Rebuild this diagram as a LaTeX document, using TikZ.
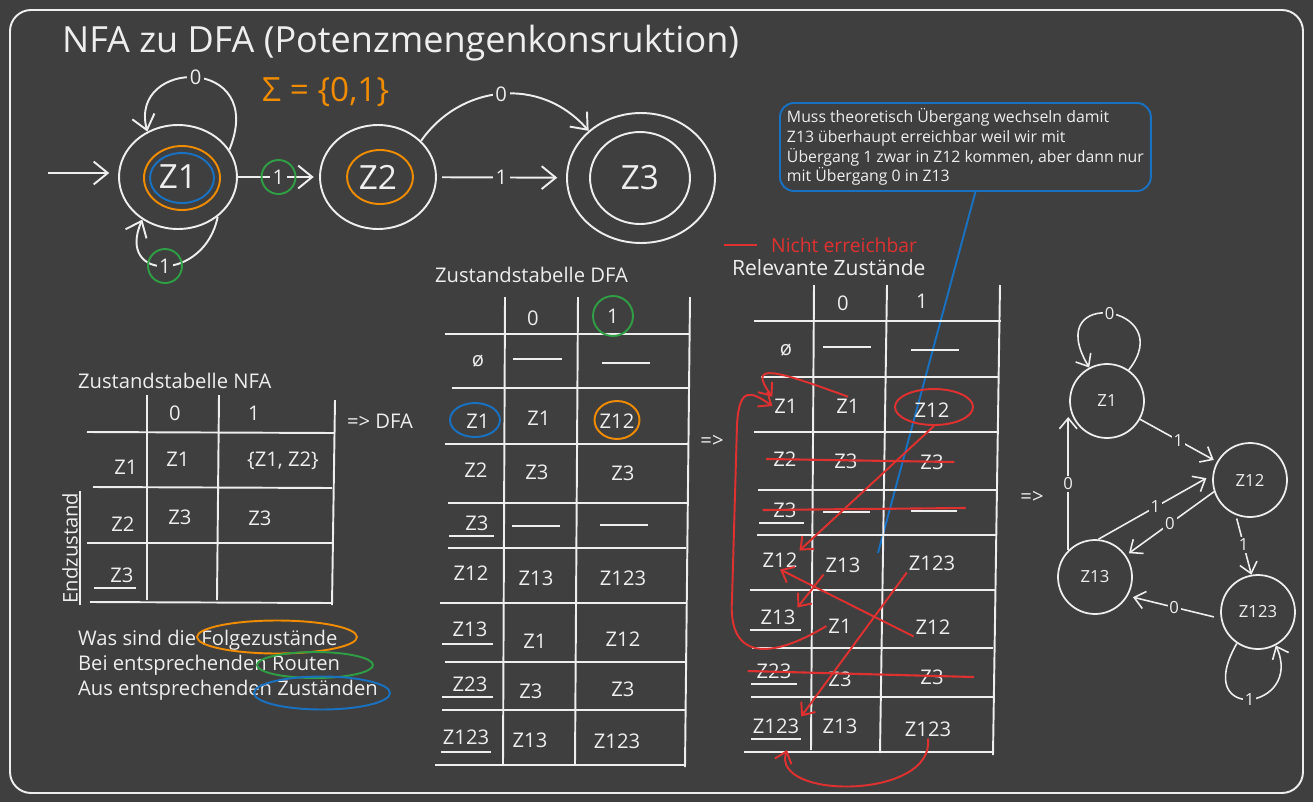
\documentclass[tikz,border=0pt]{standalone}
\usepackage{fontspec}
\setmainfont{Open Sans}
\usepackage{xcolor}
\usetikzlibrary{positioning,shapes.geometric,arrows.meta}

\definecolor{board}{HTML}{3F3F3F}
\definecolor{chalk}{HTML}{EEEEEE}
\definecolor{exorange}{HTML}{F08C00}
\definecolor{exblue}{HTML}{1971C2}
\definecolor{exgreen}{HTML}{2F9E44}
\definecolor{exred}{HTML}{E03131}

\begin{document}
\begin{tikzpicture}[
  x=0.02cm, y=-0.02cm,
  txt/.style={text=chalk, font=\fontsize{11.5}{14}\selectfont, inner sep=1pt},
  nstate/.style={draw=chalk, ellipse, line width=1.1pt, inner sep=0pt, text=chalk, font=\fontsize{19}{22}\selectfont},
  ring/.style={draw, ellipse, line width=1.1pt, inner sep=0pt},
  dstate/.style={draw=chalk, circle, line width=1pt, minimum size=1.48cm, inner sep=0pt, text=chalk, font=\fontsize{9.5}{12}\selectfont},
  arrow/.style={draw=chalk, line width=1.1pt, -{Straight Barb[length=8pt,width=13pt]}},
  small arrow/.style={draw=chalk, line width=0.9pt, -{Straight Barb[length=6pt,width=10pt]}},
  red arrow/.style={draw=exred, line width=1.1pt, -{Straight Barb[length=6pt,width=10pt]}},
  lbl/.style={fill=board, inner sep=1.5pt, text=chalk, font=\fontsize{11.5}{14}\selectfont},
  dlabel/.style={fill=board, inner sep=1pt, text=chalk, font=\fontsize{9.5}{12}\selectfont},
  tabline/.style={draw=chalk, line width=1.1pt},
  strike/.style={draw=exred, line width=1.2pt}
]
\fill[board] (0,0) rectangle (1313,802);
\draw[chalk, line width=1.1pt, rounded corners=12pt] (10,10) rectangle (1303,793);

% Titel und Alphabet
\node[txt, anchor=west, font=\fontsize{20.5}{24}\selectfont] (title) at (60,43) {NFA zu DFA (Potenzmengenkonsruktion)};
\node[anchor=west, text=exorange, font=\fontsize{19}{22}\selectfont] (sigma) at (256,92) {Σ = \{0,1\}};

% NFA oben
\node[nstate, minimum width=2.36cm, minimum height=2.08cm] (z1) at (178,177) {Z1};
\node[ring, exorange, minimum width=1.52cm, minimum height=1.28cm] (z1o) at (182,178) {};
\node[ring, exblue, minimum width=1.28cm, minimum height=1.0cm] (z1b) at (182,178) {};
\node[nstate, minimum width=2.32cm, minimum height=2.08cm] (z2) at (378,177) {Z2};
\node[ring, exorange, minimum width=1.32cm, minimum height=1.08cm] (z2o) at (380,177) {};
\node[nstate, minimum width=2.96cm, minimum height=2.6cm] (z3) at (641,178) {};
\node[nstate, minimum width=2.0cm, minimum height=1.84cm] (z3i) at (640,178) {Z3};
\coordinate (nstart) at (48,173);
\draw[arrow, shorten >=5pt] (nstart) -- (nstart -| z1.west);
\draw[arrow, shorten >=3pt] (z1) -- node[lbl] (t11) {1} (z2);
\node[ring, exgreen, circle, minimum size=0.68cm] (g1) at (t11) {};
\draw[arrow] (z1.28) .. controls (268,55) and (128,58) .. node[lbl] (t00) {0} (z1.124);
\draw[arrow] (z1.-45) .. controls (205,282) and (115,282) .. node[lbl] (t01) {1} (z1.-130);
\node[ring, exgreen, circle, minimum size=0.68cm] (g2) at (t01) {};
\draw[arrow] (z2.40) .. controls (460,85) and (540,75) .. node[lbl] (t20) {0} (z3.138);
\draw[arrow, shorten <=3pt, shorten >=5pt] (z2) -- node[lbl] (t21) {1} (z3);

% Kommentar
\node[draw=exblue, line width=1.1pt, rounded corners=8pt, anchor=north west, align=left, inner xsep=4pt, inner ysep=3pt, text=chalk, font=\fontsize{9}{11.3}\selectfont] (note) at (779,102) {Muss theoretisch Übergang wechseln damit\\Z13 überhaupt erreichbar weil wir mit\\Übergang 1 zwar in Z12 kommen, aber dann nur\\mit Übergang 0 in Z13};
\coordinate (notetip) at (878,553);
\draw[exblue, line width=1.1pt] ([xshift=0.2cm]note.south) -- (notetip);

% Zustandstabelle NFA
\node[txt, anchor=west] (nfahead) at (76,381) {Zustandstabelle NFA};
\draw[tabline] (147,395) -- (147,600);
\draw[tabline] (219,395) -- (217,600);
\draw[tabline] (335,400) -- (332,605);
\draw[tabline] (87,432) -- (335,433);
\draw[tabline] (93,487) -- (332,488);
\draw[tabline] (87,543) -- (332,543);
\draw[tabline] (90,602) -- (332,603);
\node[txt] (nh0) at (175,413) {0};
\node[txt] (nh1) at (254,413) {1};
\node[txt] (nz1) at (126,467) {Z1};
\node[txt] (nz1a) at (178,459) {Z1};
\node[txt] (nz1b) at (283,461) {\{Z1, Z2\}};
\node[txt] (nz2) at (123,524) {Z2};
\node[txt] (nz2a) at (180,517) {Z3};
\node[txt] (nz2b) at (260,518) {Z3};
\node[txt] (nz3) at (122,575) {Z3};
\draw[tabline] ([xshift=-8pt,yshift=-2pt]nz3.south west) -- ([yshift=-2pt]nz3.south east);
\node[txt, rotate=90] (endz) at (70,548) {Endzustand};
\draw[tabline] (endz.south west) -- (endz.south east);
\node[txt, anchor=west] (todfa) at (345,421) {=> DFA};

% Fragen
\node[txt, anchor=west] (q1) at (76,640) {Was sind die Folgezustände};
\node[txt, anchor=west] (q2) at (76,665) {Bei entsprechenden Routen};
\node[txt, anchor=west] (q3) at (76,690) {Aus entsprechenden Zuständen};
\node[ring, exorange, minimum width=3.2cm, minimum height=0.66cm] (qm1) at (277,637) {};
\node[ring, exgreen, minimum width=2.32cm, minimum height=0.52cm] (qm2) at (315,665) {};
\node[ring, exblue, minimum width=2.72cm, minimum height=0.66cm] (qm3) at (322,693) {};

% Zustandstabelle DFA
\node[txt, anchor=west] (dfahead) at (433,275) {Zustandstabelle DFA};
\draw[tabline] (505,297) -- (503,765);
\draw[tabline] (578,297) -- (575,765);
\draw[tabline] (690,297) -- (685,767);
\draw[tabline] (445,334) -- (690,334);
\draw[tabline] (452,388) -- (688,388);
\draw[tabline] (445,444) -- (688,444);
\draw[tabline] (448,503) -- (688,503);
\draw[tabline] (448,548) -- (686,548);
\draw[tabline] (440,603) -- (686,603);
\draw[tabline] (445,662) -- (686,662);
\draw[tabline] (442,710) -- (685,710);
\draw[tabline] (435,765) -- (685,765);
\node[txt] (dh0) at (533,318) {0};
\node[txt] (dh1) at (613,316) {1};
\node[ring, exgreen, circle, minimum size=0.8cm] (dg1) at (dh1) {};
\node[txt] (de) at (478,361) {ø};
\draw[tabline] (513,359) -- (562,359);
\draw[tabline] (602,363) -- (650,363);
\node[txt] (dz1) at (478,421) {Z1};
\node[txt] (dz1a) at (539,418) {Z1};
\node[txt] (dz1b) at (617,421) {Z12};
\node[ring, exblue, minimum width=1.0cm, minimum height=0.68cm] (dm1) at (475,420) {};
\node[ring, exorange, minimum width=0.9cm, minimum height=0.76cm] (dm2) at (617,420) {};
\node[txt] (dz2) at (476,470) {Z2};
\node[txt] (dz2a) at (537,472) {Z3};
\node[txt] (dz2b) at (623,473) {Z3};
\node[txt] (dz3) at (477,523) {Z3};
\draw[tabline] ([xshift=-8pt,yshift=-2pt]dz3.south west) -- ([xshift=2pt,yshift=-2pt]dz3.south east);
\draw[tabline] (512,526) -- (560,526);
\draw[tabline] (600,525) -- (648,525);
\node[txt] (dz12) at (471,573) {Z12};
\node[txt] (dz12a) at (536,578) {Z13};
\node[txt] (dz12b) at (623,578) {Z123};
\node[txt] (dz13) at (470,629) {Z13};
\draw[tabline] ([xshift=-5pt,yshift=-3pt]dz13.south west) -- ([xshift=2pt,yshift=-3pt]dz13.south east);
\node[txt] (dz13a) at (535,641) {Z1};
\node[txt] (dz13b) at (623,639) {Z12};
\node[txt] (dz23) at (470,684) {Z23};
\draw[tabline] ([xshift=-5pt,yshift=-2pt]dz23.south west) -- ([xshift=2pt,yshift=-2pt]dz23.south east);
\node[txt] (dz23a) at (531,691) {Z3};
\node[txt] (dz23b) at (623,689) {Z3};
\node[txt] (dz123) at (466,737) {Z123};
\draw[tabline] ([yshift=-3pt]dz123.south west) -- ([yshift=-3pt]dz123.south east);
\node[txt] (dz123a) at (530,740) {Z13};
\node[txt] (dz123b) at (617,741) {Z123};
\node[txt] (arrow1) at (712,441) {=>};

% Relevante Zustaende
\draw[strike] (724,245) -- (757,245);
\node[anchor=west, text=exred, font=\fontsize{11}{13}\selectfont] (legend) at (765,245) {Nicht erreichbar};
\node[txt, anchor=west, font=\fontsize{12}{15}\selectfont] (relhead) at (730,268) {Relevante Zustände};
\draw[tabline] (814,285) -- (811,750);
\draw[tabline] (887,285) -- (880,753);
\draw[tabline] (1000,285) -- (993,755);
\draw[tabline] (754,321) -- (1001,321);
\draw[tabline] (761,377) -- (998,377);
\draw[tabline] (754,432) -- (998,432);
\draw[tabline] (758,490) -- (998,490);
\draw[tabline] (757,535) -- (997,535);
\draw[tabline] (750,590) -- (995,590);
\draw[tabline] (752,648) -- (993,648);
\draw[tabline] (751,697) -- (993,697);
\draw[tabline] (744,752) -- (993,752);
\node[txt] (rh0) at (843,303) {0};
\node[txt] (rh1) at (922,301) {1};
\node[txt] (re) at (786,350) {ø};
\draw[tabline] (823,347) -- (871,347);
\draw[tabline] (911,350) -- (959,350);
\node[txt] (rz1) at (786,406) {Z1};
\node[txt] (rz1a) at (848,406) {Z1};
\node[txt] (rz1b) at (932,410) {Z12};
\node[ring, exred, minimum width=1.56cm, minimum height=0.72cm] (rmark) at (934,407) {};
\node[txt] (rz2) at (785,459) {Z2};
\node[txt] (rz2a) at (846,461) {Z3};
\node[txt] (rz2b) at (932,462) {Z3};
\draw[strike] ([xshift=-3pt]rz2.west) -- ([xshift=5pt]rz2b.east);
\node[txt] (rz3) at (785,510) {Z3};
\draw[tabline] ([xshift=-7pt,yshift=-2pt]rz3.south west) -- ([xshift=3pt,yshift=-2pt]rz3.south east);
\draw[tabline] (823,512) -- (870,512);
\draw[tabline] (911,511) -- (957,511);
\draw[strike] ([xshift=-5pt]rz3.west) -- ++(203,-2);
\node[txt] (rz12) at (780,560) {Z12};
\node[txt] (rz12a) at (843,565) {Z13};
\node[txt] (rz12b) at (932,563) {Z123};
\node[txt] (rz13) at (778,617) {Z13};
\draw[tabline] ([xshift=-5pt,yshift=-2pt]rz13.south west) -- ([xshift=2pt,yshift=-2pt]rz13.south east);
\node[txt] (rz13a) at (840,626) {Z1};
\node[txt] (rz13b) at (933,627) {Z12};
\node[txt] (rz23) at (774,671) {Z23};
\draw[tabline] ([xshift=-2pt,yshift=-2pt]rz23.south west) -- ([xshift=2pt,yshift=-2pt]rz23.south east);
\node[txt] (rz23a) at (840,679) {Z3};
\node[txt] (rz23b) at (932,677) {Z3};
\draw[strike] ([xshift=-4pt]rz23.west) -- ([xshift=16pt]rz23b.east);
\node[txt] (rz123) at (776,726) {Z123};
\draw[tabline] ([yshift=-2pt]rz123.south west) -- ([yshift=-2pt]rz123.south east);
\node[txt] (rz123a) at (840,726) {Z13};
\node[txt] (rz123b) at (928,729) {Z123};
\coordinate (loopend) at (787,750);
\draw[red arrow] (rz1a.north) .. controls (780,372) and (745,360) .. (rz1.north west);
\draw[red arrow] (rz13a.west) .. controls (770,660) and (728,660) .. (732,600) -- (737,425) .. controls (739,385) and (752,392) .. (rz1.west);
\draw[red arrow] (rmark.south) -- (rz12.north east);
\draw[red arrow] (rz12a.south west) -- (rz13.north east);
\draw[red arrow] (rz13b.south west) -- (rz12.south);
\draw[red arrow] (rz12b.south west) -- (rz123.north east);
\draw[red arrow] (rz123b.south) .. controls (935,800) and (770,800) .. (loopend);

% DFA Graph
\node[txt] (arrow2) at (1032,497) {=>};
\node[dstate] (gz1) at (1107,401) {Z1};
\node[dstate] (gz12) at (1250,480) {Z12};
\node[dstate] (gz13) at (1095,577) {Z13};
\node[dstate] (gz123) at (1258,612) {Z123};
\draw[small arrow] (gz1.55) .. controls (1180,305) and (1040,285) .. node[dlabel] (e00) {0} (gz1.118);
\draw[small arrow, shorten >=2pt] (gz1) -- node[dlabel] (e01) {1} (gz12);
\draw[small arrow, shorten >=4pt] (gz13.85) -- node[dlabel] (e31) {1} (gz12.172);
\draw[small arrow, shorten >=2pt] (gz12.198) -- node[dlabel] (e20) {0} (gz13.35);
\draw[small arrow, shorten <=2pt] (gz12.-112) -- node[dlabel] (e21) {1} (gz123.100);
\draw[small arrow] (gz13.135) -- node[dlabel] (e30) {0} (gz13.135 |- gz1.205);
\draw[small arrow, shorten <=4pt, shorten >=3pt] (gz123.190) -- node[dlabel] (e40) {0} (gz13.-30);
\draw[small arrow] (gz123.-124) .. controls (1190,725) and (1305,710) .. node[dlabel] (e41) {1} (gz123.-62);
\end{tikzpicture}
\end{document}
